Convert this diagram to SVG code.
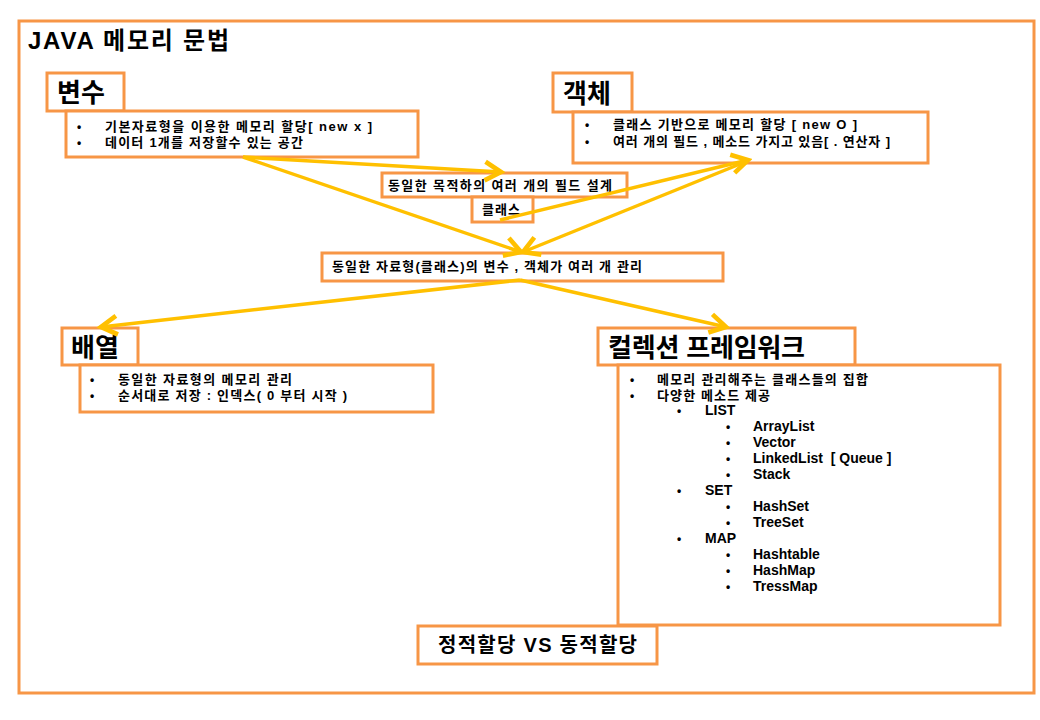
<svg xmlns="http://www.w3.org/2000/svg" width="1040" height="720" viewBox="0 0 1040 720">
<defs>
<style>
.box{fill:#fff;stroke:#F79646;stroke-width:3}
.t{font-family:"Liberation Sans","Noto Sans CJK KR",sans-serif;font-weight:bold;fill:#000}
.s{font-size:13px}
.b{font-size:12px}
.m{font-size:14px}
.h{font-size:26px}
.c{stroke:#FFC000;stroke-width:3.5;fill:none;marker-end:url(#ah)}
</style>
<marker id="ah" markerUnits="userSpaceOnUse" markerWidth="24" markerHeight="24" viewBox="-14 -9 16 18" refX="0" refY="0" orient="auto">
<path d="M-12,-7 L0,0 L-12,7" fill="none" stroke="#FFC000" stroke-width="3.5"/>
</marker>
</defs>
<rect width="1040" height="720" fill="#fff"/>
<g id="frame">
<rect class="box" x="19" y="21" width="1015" height="672"/>
<text class="t" x="28" y="49" font-size="24" textLength="201">JAVA 메모리 문법</text>
</g>
<g id="var">
<rect class="box" x="47" y="73" width="77" height="38"/>
<text class="t h" x="57" y="102">변수</text>
<rect class="box" x="66" y="111" width="352" height="46"/>
<text class="t b" x="77" y="131">•</text>
<text class="t s" x="105" y="131" textLength="267">기본자료형을 이용한 메모리 할당[ new x ]</text>
<text class="t b" x="77" y="147">•</text>
<text class="t s" x="105" y="147" textLength="198">데이터 1개를 저장할수 있는 공간</text>
</g>
<g id="obj">
<rect class="box" x="553" y="73" width="79" height="39"/>
<text class="t h" x="563" y="103">객체</text>
<rect class="box" x="573" y="112" width="355" height="51"/>
<text class="t b" x="585" y="129">•</text>
<text class="t s" x="613" y="129" textLength="244">클래스 기반으로 메모리 할당 [ new O ]</text>
<text class="t b" x="585" y="146">•</text>
<text class="t s" x="613" y="146" textLength="277">여러 개의 필드 , 메소드 가지고 있음[ . 연산자 ]</text>
</g>
<g id="design">
<rect class="box" x="382" y="173" width="245" height="24"/>
<text class="t s" x="388" y="190" textLength="224">동일한 목적하의 여러 개의 필드 설계</text>
</g>
<g id="cls">
<rect class="box" x="472" y="197" width="61" height="25"/>
<text class="t s" x="482" y="214" textLength="38">클래스</text>
</g>
<g id="manage">
<rect class="box" x="322" y="253" width="401" height="28"/>
<text class="t s" x="332" y="271" textLength="310">동일한 자료형(클래스)의 변수 , 객체가 여러 개 관리</text>
</g>
<g id="arr">
<rect class="box" x="62" y="328" width="76" height="37"/>
<text class="t h" x="71" y="357">배열</text>
<rect class="box" x="80" y="365" width="353" height="47"/>
<text class="t b" x="90" y="384">•</text>
<text class="t s" x="118" y="384" textLength="174">동일한 자료형의 메모리 관리</text>
<text class="t b" x="90" y="400">•</text>
<text class="t s" x="118" y="400" textLength="229">순서대로 저장 : 인덱스( 0 부터 시작 )</text>
</g>
<g id="coll">
<rect class="box" x="598" y="328" width="257" height="37"/>
<text class="t h" x="608" y="357" textLength="197">컬렉션 프레임워크</text>
<rect class="box" x="618" y="365" width="382" height="260"/>
<text class="t b" x="630" y="384">•</text>
<text class="t s" x="657" y="384" textLength="211">메모리 관리해주는 클래스들의 집합</text>
<text class="t b" x="630" y="400">•</text>
<text class="t s" x="657" y="400" textLength="113">다양한 메소드 제공</text>
<text class="t b" x="677" y="415">•</text>
<text class="t m" x="705" y="415">LIST</text>
<text class="t b" x="726" y="431">•</text>
<text class="t m" x="753" y="431">ArrayList</text>
<text class="t b" x="726" y="447">•</text>
<text class="t m" x="753" y="447">Vector</text>
<text class="t b" x="726" y="463">•</text>
<text class="t m" x="753" y="463" xml:space="preserve">LinkedList  [ Queue ]</text>
<text class="t b" x="726" y="479">•</text>
<text class="t m" x="753" y="479">Stack</text>
<text class="t b" x="677" y="495">•</text>
<text class="t m" x="705" y="495">SET</text>
<text class="t b" x="726" y="511">•</text>
<text class="t m" x="753" y="511">HashSet</text>
<text class="t b" x="726" y="527">•</text>
<text class="t m" x="753" y="527">TreeSet</text>
<text class="t b" x="677" y="543">•</text>
<text class="t m" x="705" y="543">MAP</text>
<text class="t b" x="726" y="559">•</text>
<text class="t m" x="753" y="559">Hashtable</text>
<text class="t b" x="726" y="575">•</text>
<text class="t m" x="753" y="575">HashMap</text>
<text class="t b" x="726" y="591">•</text>
<text class="t m" x="753" y="591">TressMap</text>
</g>
<g id="alloc">
<rect class="box" x="418" y="626" width="239" height="38"/>
<text class="t" x="438" y="652" font-size="20" textLength="199">정적할당 VS 동적할당</text>
</g>
<g id="connectors">
<line class="c" x1="243" y1="157" x2="501" y2="172"/>
<line class="c" x1="243" y1="157" x2="521" y2="252"/>
<line class="c" x1="500" y1="220" x2="748" y2="160"/>
<line class="c" x1="745" y1="162" x2="523" y2="252"/>
<line class="c" x1="520" y1="280" x2="101" y2="327"/>
<line class="c" x1="520" y1="280" x2="726" y2="327"/>
</g>
</svg>
